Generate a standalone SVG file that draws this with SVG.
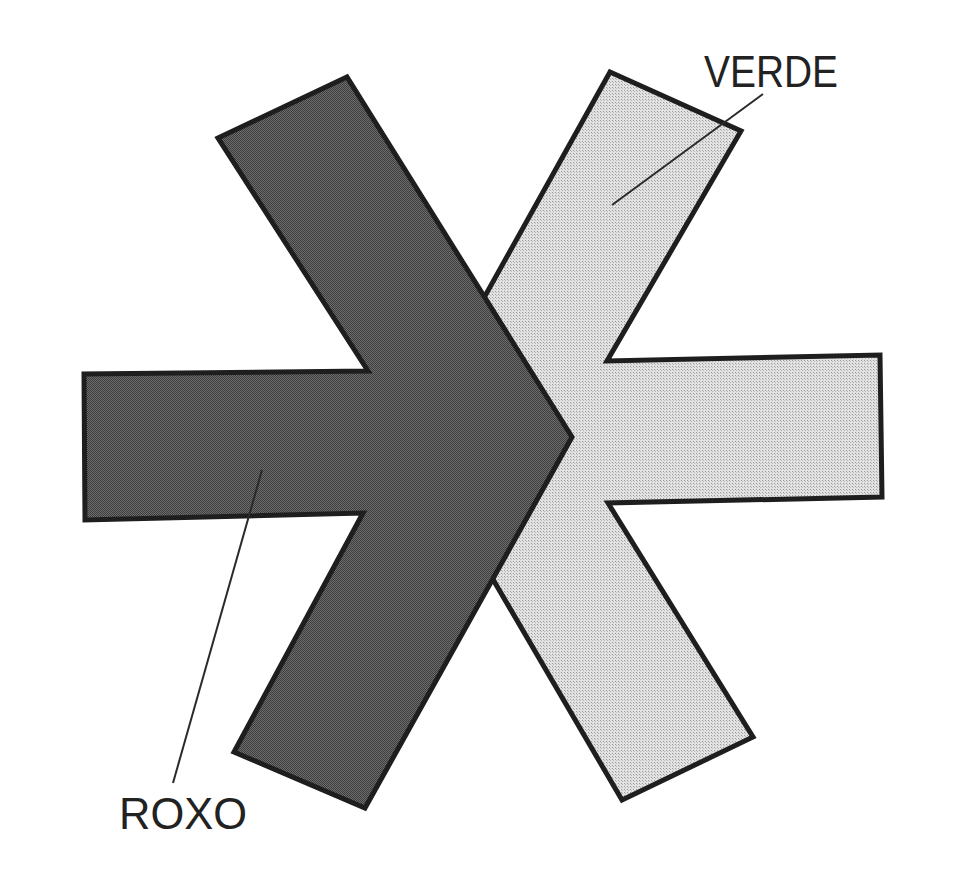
<svg xmlns="http://www.w3.org/2000/svg" width="959" height="894" viewBox="0 0 959 894">
<defs>
<pattern id="pd" width="2" height="2" patternUnits="userSpaceOnUse">
<rect width="2" height="2" fill="#6e6e6e"/>
<rect width="1" height="1" fill="#3c3c3c"/>
<rect x="1" y="1" width="1" height="1" fill="#3c3c3c"/>
</pattern>
<pattern id="pl" width="3" height="3" patternUnits="userSpaceOnUse">
<rect width="3" height="3" fill="#e2e2e2"/>
<rect width="1" height="1" fill="#9a9a9a"/>
<rect x="1" y="1" width="1" height="1" fill="#b8b8b8"/>
</pattern>
</defs>
<style>
.shape{stroke:#1e1e1e;stroke-width:5;stroke-linejoin:miter}
.lead{stroke:#2a2a2a;stroke-width:2;fill:none}
.lbl{font-family:"Liberation Sans","DejaVu Sans",sans-serif;font-size:45px;fill:#222}
</style>
<rect width="959" height="894" fill="#ffffff"/>
<g id="verde">
<polygon class="shape" fill="url(#pl)" points="610,72 741,131 607,361 880,355 882,497 608,503 753,737 622,800 408,434"/>
</g>
<g id="roxo">
<polygon class="shape" fill="url(#pd)" points="218,138 347,77 572,437 365,808 234,752 363,513 85,520 84,374 368,371"/>
</g>
<g id="connectors">
<line class="lead" x1="763" y1="94" x2="612" y2="205"/>
<line class="lead" x1="173" y1="783" x2="262" y2="470"/>
</g>
<g id="labels">
<text class="lbl" x="704" y="87" textLength="134" lengthAdjust="spacingAndGlyphs">VERDE</text>
<text class="lbl" x="119" y="829" textLength="128" lengthAdjust="spacingAndGlyphs">ROXO</text>
</g>
</svg>
